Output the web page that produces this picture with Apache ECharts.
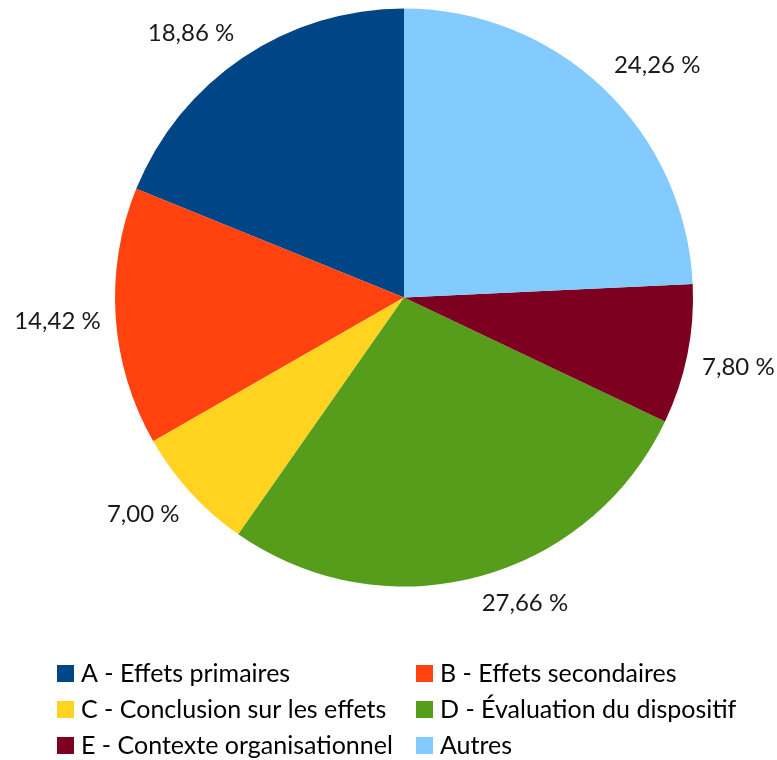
<!DOCTYPE html>
<html>
<head>
<meta charset="utf-8">
<script src="https://cdn.jsdelivr.net/npm/echarts@6/dist/echarts.min.js"></script>
<style>html,body{margin:0;padding:0;background:#fff;}#c{width:777px;height:760px;}</style>
</head>
<body>
<div id="c"></div>
<script>
const categories = ['A - Effets primaires','B - Effets secondaires','C - Conclusion sur les effets','D - Évaluation du dispositif','E - Contexte organisationnel','Autres'];
const values = [18.86, 14.42, 7.00, 27.66, 7.80, 24.26];
const colors = ['#004586','#ff420e','#ffd320','#579d1c','#7e0021','#83caff'];
const leftCol = [categories[0], categories[2], categories[4]];
const rightCol = [categories[1], categories[3], categories[5]];

const chart = echarts.init(document.getElementById('c'));
const font = 'Lato, "Open Sans", sans-serif';
const legendCommon = {
  orient: 'horizontal',
  top: 661,
  width: 345,
  padding: 0,
  icon: 'rect',
  itemWidth: 17,
  itemHeight: 17,
  itemGap: 11,
  selectedMode: false,
  textStyle: {fontFamily: font, fontSize: 25, color: '#000', lineHeight: 24, padding: [0,0,0,2]}
};
function clamp(v) { return Math.max(-1, Math.min(1, v)); }
chart.setOption({
  animation: false,
  color: colors,
  legend: [
    Object.assign({}, legendCommon, {left: 57, data: leftCol}),
    Object.assign({}, legendCommon, {left: 416, data: rightCol})
  ],
  series: [{
    type: 'pie',
    center: [404, 297.5],
    radius: [0, 289],
    startAngle: 90,
    clockwise: false,
    avoidLabelOverlap: false,
    label: {
      show: true,
      position: 'outside',
      fontFamily: font,
      fontSize: 24,
      color: '#1a1a1a',
      formatter: p => p.value.toFixed(2).replace('.', ',') + ' %'
    },
    labelLine: {show: true, length: 15, length2: 0, lineStyle: {opacity: 0, width: 0}},
    labelLayout: function (p) {
      const pts = p.labelLinePoints;
      if (!pts) return {};
      const a = pts[0], b = pts[1];
      let dx = b[0] - a[0], dy = b[1] - a[1];
      const len = Math.sqrt(dx * dx + dy * dy) || 1;
      dx /= len; dy /= len;
      const w = p.labelRect.width, h = p.labelRect.height;
      return {
        x: b[0] + clamp(4 * dx) * w / 2,
        y: b[1] + clamp(4 * dy) * h / 2,
        align: 'center',
        verticalAlign: 'middle'
      };
    },
    emphasis: {disabled: true},
    data: categories.map((n, i) => ({name: n, value: values[i]}))
  }]
});
</script>
</body>
</html>
